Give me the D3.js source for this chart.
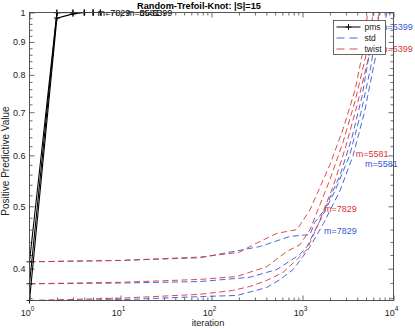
<!DOCTYPE html>
<html>
<head>
<meta charset="utf-8">
<script src="https://cdn.jsdelivr.net/npm/d3@7/dist/d3.min.js"></script>
<style>
  body { margin: 0; background: #fff; }
  svg { display: block; font-family: "Liberation Sans", Arial, sans-serif; }
</style>
</head>
<body>
<div id="container"></div>
<script>
// tick values
var xMajorTicks = [1, 10, 100, 1000, 10000];
var xExponents = ["0", "1", "2", "3", "4"];
var yMajorTicks = [0.4, 0.5, 0.6, 0.7, 0.8, 0.9, 1];
var yTickLabels = ["0.4", "0.5", "0.6", "0.7", "0.8", "0.9", "1"];

// pms runs (solid, + markers)
var pms7829Iter = [1, 2, 3, 4, 5];
var pms7829Val  = [0.357, 0.980, 0.995, 1.0, 1.0];
var pms5581Iter = [1, 2, 3, 4, 5, 6];
var pms5581Val  = [0.379, 1.0, 1.0, 1.0, 1.0, 1.0];
var pms6399Iter = [1, 2, 3, 4, 5, 6];
var pms6399Val  = [0.410, 0.999, 1.0, 1.0, 1.0, 1.0];

// std runs (blue dashed)
var stdTopIter = [1, 10, 75, 340, 730, 1210, 1360, 1750, 2600, 3500, 4500, 5400, 6000];
var stdTopVal  = [0.410, 0.412, 0.416, 0.433, 0.449, 0.452, 0.472, 0.494, 0.56, 0.64, 0.74, 0.86, 1.0];
var stdMidIter = [1, 10, 75, 265, 525, 940, 1120, 1500, 2300, 3300, 4400, 5600, 7000];
var stdMidVal  = [0.379, 0.380, 0.382, 0.388, 0.399, 0.421, 0.433, 0.47, 0.53, 0.60, 0.70, 0.82, 1.0];
var stdLowIter = [1, 10, 75, 190, 405, 570, 790, 1015, 1210, 1700, 2600, 3600, 4800, 6200, 8500];
var stdLowVal  = [0.357, 0.358, 0.362, 0.3635, 0.374, 0.385, 0.399, 0.418, 0.433, 0.47, 0.53, 0.60, 0.70, 0.84, 1.0];

// twist runs (red dashed)
var twistTopIter = [1, 10, 75, 200, 320, 525, 870, 1210, 2000, 2800, 3800, 4600, 5200];
var twistTopVal  = [0.410, 0.412, 0.417, 0.424, 0.439, 0.454, 0.460, 0.494, 0.58, 0.66, 0.76, 0.87, 1.0];
var twistMidIter = [1, 10, 75, 190, 405, 675, 940, 1210, 2000, 2800, 3800, 5000, 6000];
var twistMidVal  = [0.379, 0.381, 0.385, 0.389, 0.403, 0.4255, 0.436, 0.460, 0.55, 0.63, 0.73, 0.86, 1.0];
var twistLowIter = [1, 10, 75, 170, 265, 405, 610, 870, 1120, 1500, 2200, 3000, 4000, 5200, 7000];
var twistLowVal  = [0.357, 0.360, 0.365, 0.370, 0.3754, 0.3836, 0.3947, 0.4135, 0.4285, 0.47, 0.54, 0.62, 0.72, 0.84, 1.0];

// m= labels (method, iteration, value, text)
var labelMethod = ["pms", "pms", "pms", "std", "twist", "twist", "std", "twist", "std"];
var labelIter   = [5.6, 11.8, 16.2, 7100, 7100, 3850, 4860, 1720, 1720];
var labelVal    = [1.0, 1.0, 1.0, 0.950, 0.878, 0.604, 0.582, 0.496, 0.4586];
var labelText   = ["m=7829", "m=5581", "m=6399", "m=6399", "m=6399", "m=5581", "m=5581", "m=7829", "m=7829"];

var methodNames = ["pms", "std", "twist"];
var methodColors = ["#000000", "#3456d6", "#d83636"];

function drawChart() {
  var W = 415, H = 329;
  var plotLeft = 29.5, plotRight = 393.5, plotTop = 12.5, plotBottom = 300.5;
  var yMin = 0.357, yMax = 1;

  var svg = d3.select("#container").append("svg")
    .attr("width", W).attr("height", H);

  var x = d3.scaleLog().domain([1, 10000]).range([plotLeft, plotRight]);
  var y = d3.scaleLog().domain([yMin, yMax]).range([plotBottom, plotTop]);
  var color = d3.scaleOrdinal().domain(methodNames).range(methodColors);

  var xMinorTicks = [];
  xMajorTicks.slice(0, -1).forEach(function (d) {
    for (var k = 2; k <= 9; k++) xMinorTicks.push(d * k);
  });
  var yMinorTicks = d3.range(36, 100, 2)
    .filter(function (k) { return k % 10 !== 0; })
    .map(function (k) { return k / 100; })
    .filter(function (v) { return v >= yMin; });

  var series = [
    { method: "std",   it: stdTopIter,   v: stdTopVal },
    { method: "std",   it: stdMidIter,   v: stdMidVal },
    { method: "std",   it: stdLowIter,   v: stdLowVal },
    { method: "twist", it: twistTopIter, v: twistTopVal },
    { method: "twist", it: twistMidIter, v: twistMidVal },
    { method: "twist", it: twistLowIter, v: twistLowVal },
    { method: "pms",   it: pms7829Iter,  v: pms7829Val },
    { method: "pms",   it: pms5581Iter,  v: pms5581Val },
    { method: "pms",   it: pms6399Iter,  v: pms6399Val }
  ].map(function (s) {
    s.points = s.it.map(function (d, i) { return [d, s.v[i]]; });
    return s;
  });

  svg.append("clipPath").attr("id", "plotClip")
    .append("rect").attr("x", plotLeft).attr("y", plotTop)
    .attr("width", plotRight - plotLeft).attr("height", plotBottom - plotTop);

  // axes with inward ticks on all four sides
  function styleAxis(g) {
    g.select(".domain").remove();
    g.selectAll(".tick line").attr("stroke", "#444").attr("stroke-width", 0.8);
  }

  svg.append("g").attr("transform", "translate(0," + plotBottom + ")")
    .call(d3.axisBottom(x).tickValues(xMajorTicks).tickSize(-5).tickFormat("")).call(styleAxis);
  svg.append("g").attr("transform", "translate(0," + plotBottom + ")")
    .call(d3.axisBottom(x).tickValues(xMinorTicks).tickSize(-3).tickFormat("")).call(styleAxis);
  svg.append("g").attr("transform", "translate(0," + plotTop + ")")
    .call(d3.axisTop(x).tickValues(xMajorTicks).tickSize(-5).tickFormat("")).call(styleAxis);
  svg.append("g").attr("transform", "translate(0," + plotTop + ")")
    .call(d3.axisTop(x).tickValues(xMinorTicks).tickSize(-3).tickFormat("")).call(styleAxis);

  svg.append("g").attr("transform", "translate(" + plotLeft + ",0)")
    .call(d3.axisLeft(y).tickValues(yMajorTicks).tickSize(-5)
      .tickFormat(function (d, i) { return yTickLabels[i]; }))
    .call(styleAxis)
    .call(function (g) {
      g.selectAll(".tick text").attr("x", -4).attr("font-size", 9)
        .attr("font-family", "Liberation Sans, Arial, sans-serif").attr("fill", "#222");
    });
  svg.append("g").attr("transform", "translate(" + plotLeft + ",0)")
    .call(d3.axisLeft(y).tickValues(yMinorTicks).tickSize(-3).tickFormat("")).call(styleAxis);
  svg.append("g").attr("transform", "translate(" + plotRight + ",0)")
    .call(d3.axisRight(y).tickValues(yMajorTicks).tickSize(-5).tickFormat("")).call(styleAxis);
  svg.append("g").attr("transform", "translate(" + plotRight + ",0)")
    .call(d3.axisRight(y).tickValues(yMinorTicks).tickSize(-3).tickFormat("")).call(styleAxis);

  // x tick labels as 10 with superscript exponent
  var xLabels = svg.append("g").attr("font-size", 9).attr("fill", "#222");
  xLabels.selectAll("text").data(xMajorTicks).enter().append("text")
    .attr("x", function (d) { return x(d) - 2; })
    .attr("y", 316)
    .attr("text-anchor", "middle")
    .each(function (d, i) {
      var t = d3.select(this);
      t.append("tspan").text("10");
      t.append("tspan").attr("dy", -5).attr("font-size", 6.5).text(xExponents[i]);
    });

  // data lines
  var line = d3.line()
    .x(function (d) { return x(d[0]); })
    .y(function (d) { return y(d[1]); });

  var plot = svg.append("g").attr("clip-path", "url(#plotClip)");

  plot.selectAll("path.run").data(series).enter().append("path")
    .attr("class", "run")
    .attr("fill", "none")
    .attr("stroke", function (d) { return color(d.method); })
    .attr("stroke-width", function (d) { return d.method === "pms" ? 1.1 : 0.9; })
    .attr("stroke-dasharray", function (d) { return d.method === "pms" ? null : "6,3.5"; })
    .attr("d", function (d) { return line(d.points); });

  var plus = "M-3,0H3M0,-3V3";
  var pmsPoints = [];
  series.filter(function (s) { return s.method === "pms"; }).forEach(function (s) {
    s.points.forEach(function (p) { pmsPoints.push(p); });
  });
  svg.append("g").selectAll("path").data(pmsPoints).enter().append("path")
    .attr("transform", function (d) { return "translate(" + x(d[0]) + "," + y(d[1]) + ")"; })
    .attr("d", plus).attr("stroke", "#000").attr("stroke-width", 0.9);

  // m= labels
  svg.append("g").attr("font-size", 9).selectAll("text")
    .data(labelText).enter().append("text")
    .attr("x", function (d, i) { return x(labelIter[i]); })
    .attr("y", function (d, i) { return y(labelVal[i]); })
    .attr("dy", "0.35em")
    .attr("fill", function (d, i) { return color(labelMethod[i]); })
    .text(function (d) { return d; });

  // frame
  svg.append("rect")
    .attr("x", plotLeft).attr("y", plotTop)
    .attr("width", plotRight - plotLeft).attr("height", plotBottom - plotTop)
    .attr("fill", "none").attr("stroke", "#444").attr("stroke-width", 0.9);

  // legend
  var legend = svg.append("g").attr("transform", "translate(333.5,20.5)");
  legend.append("rect").attr("width", 52).attr("height", 34)
    .attr("fill", "#fff").attr("stroke", "#444").attr("stroke-width", 0.8);
  var rows = legend.selectAll("g.row").data(methodNames).enter().append("g")
    .attr("class", "row")
    .attr("transform", function (d, i) { return "translate(0," + (6.5 + i * 11) + ")"; });
  rows.append("line").attr("x1", 3).attr("x2", 27)
    .attr("stroke", function (d) { return color(d); })
    .attr("stroke-width", function (d) { return d === "pms" ? 1 : 0.9; })
    .attr("stroke-dasharray", function (d) { return d === "pms" ? null : "8,5"; });
  rows.filter(function (d) { return d === "pms"; }).append("path")
    .attr("transform", "translate(15,0)").attr("d", plus)
    .attr("stroke", "#000").attr("stroke-width", 0.9);
  rows.append("text").attr("x", 31).attr("dy", "0.35em")
    .attr("font-size", 8.5).attr("fill", "#222").text(function (d) { return d; });

  // title and axis labels
  svg.append("text").attr("x", 199).attr("y", 9)
    .attr("text-anchor", "middle").attr("font-weight", "bold").attr("font-size", 9.2)
    .text("Random-Trefoil-Knot: |S|=15");
  svg.append("text").attr("x", 208).attr("y", 326)
    .attr("text-anchor", "middle").attr("font-size", 9.2).attr("fill", "#222")
    .text("iteration");
  svg.append("text")
    .attr("transform", "translate(8.5,161) rotate(-90)")
    .attr("text-anchor", "middle").attr("font-size", 10).attr("fill", "#222")
    .text("Positive Predictive Value");
}

drawChart();
</script>
</body>
</html>
